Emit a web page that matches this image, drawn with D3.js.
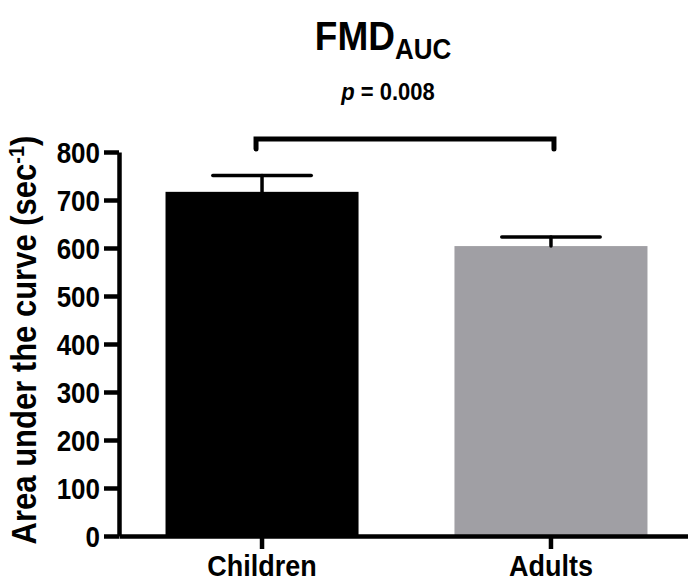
<!DOCTYPE html>
<html>
<head>
<meta charset="utf-8">
<script src="https://cdn.jsdelivr.net/npm/d3@7"></script>
<style>
  body { margin: 0; background: #fff; }
  text { font-family: "Liberation Sans", Arial, Helvetica, sans-serif; font-weight: bold; fill: #000; }
</style>
</head>
<body>
<script>
// data
var categories = ["Children", "Adults"];
var means = [717, 604];
var sems = [34, 19];
var barColors = ["#000000", "#a09fa4"];
var yTicks = [0, 100, 200, 300, 400, 500, 600, 700, 800];
var pValue = "0.008";

// the original lettering is a bit taller than Arial
var stretch = 1.12;

window.onload = function(){

	var w = 688, h = 588;

	var svg = d3.select("body")
		.append("svg")
		.attr("width", w)
		.attr("height", h);

	var x = d3.scaleBand()
		.domain(categories)
		.range([119, 694])
		.paddingInner(0.332)
		.paddingOuter(0.161);

	var y = d3.scaleLinear()
		.domain([0, 800])
		.range([536, 152]);

	var rows = categories.map(function(c, i){
		return { name: c, mean: means[i], sem: sems[i], color: barColors[i] };
	});

	// bars
	svg.selectAll(".bar")
		.data(rows)
		.enter()
		.append("rect")
		.attr("class", "bar")
		.attr("x", function(d){ return x(d.name); })
		.attr("width", x.bandwidth())
		.attr("y", function(d){ return y(d.mean); })
		.attr("height", function(d){ return y(0) - y(d.mean); })
		.style("fill", function(d){ return d.color; });

	// error bars (upper only)
	var capHalf = x.bandwidth() * 0.255;
	var err = svg.selectAll(".err")
		.data(rows)
		.enter()
		.append("g")
		.attr("class", "err")
		.style("stroke", "#000")
		.style("stroke-width", 3.5)
		.style("stroke-linecap", "round");

	err.append("line")
		.attr("x1", function(d){ return x(d.name) + x.bandwidth() / 2; })
		.attr("x2", function(d){ return x(d.name) + x.bandwidth() / 2; })
		.attr("y1", function(d){ return y(d.mean); })
		.attr("y2", function(d){ return y(d.mean + d.sem); });

	err.append("line")
		.attr("x1", function(d){ return x(d.name) + x.bandwidth() / 2 - capHalf; })
		.attr("x2", function(d){ return x(d.name) + x.bandwidth() / 2 + capHalf; })
		.attr("y1", function(d){ return y(d.mean + d.sem); })
		.attr("y2", function(d){ return y(d.mean + d.sem); });

	// y axis
	var yAxis = d3.axisLeft(y)
		.tickValues(yTicks)
		.tickSizeInner(15)
		.tickSizeOuter(0)
		.tickPadding(4);

	var yg = svg.append("g")
		.attr("transform", "translate(119,0)")
		.call(yAxis);
	yg.selectAll("path, line").style("stroke", "#000").style("stroke-width", 4.5);
	yg.selectAll("text")
		.style("font-size", "26px")
		.style("font-family", "'Liberation Sans', Arial, sans-serif")
		.style("font-weight", "bold")
		.attr("dy", "0.36em")
		.attr("transform", "scale(1," + stretch + ")");

	// x axis
	var xAxis = d3.axisBottom(x)
		.tickSizeInner(13)
		.tickSizeOuter(0)
		.tickPadding(4);

	var xg = svg.append("g")
		.attr("transform", "translate(0,536)")
		.call(xAxis);
	xg.selectAll("path, line").style("stroke", "#000").style("stroke-width", 4.5);
	xg.selectAll("text")
		.style("font-size", "27px")
		.style("font-family", "'Liberation Sans', Arial, sans-serif")
		.style("font-weight", "bold")
		.attr("transform", "scale(1," + stretch + ")");

	// y axis title
	var yTitle = svg.append("text")
		.attr("transform", "translate(36,340) rotate(-90) scale(1," + stretch + ")")
		.attr("text-anchor", "middle")
		.style("font-size", "31px");
	yTitle.append("tspan").text("Area under the curve (sec");
	yTitle.append("tspan").attr("dy", "-0.55em").style("font-size", "20px").text("-1");
	yTitle.append("tspan").attr("dy", "0.36em").text(")");

	// title
	var title = svg.append("text")
		.attr("transform", "translate(383,50) scale(1," + stretch + ")")
		.attr("text-anchor", "middle")
		.style("font-size", "37px");
	title.append("tspan").text("FMD");
	title.append("tspan").attr("dy", "0.3em").style("font-size", "26px").text("AUC");

	// significance bracket
	var xl = x("Children") + x.bandwidth() / 2 - 6,
		xr = x("Adults") + x.bandwidth() / 2 + 3,
		yb = 139;
	svg.append("path")
		.attr("d", "M" + xl + "," + (yb + 10) + "V" + yb + "H" + xr + "V" + (yb + 10))
		.style("fill", "none")
		.style("stroke", "#000")
		.style("stroke-width", 5)
		.style("stroke-linecap", "round");

	var pText = svg.append("text")
		.attr("transform", "translate(388,100) scale(1," + stretch + ")")
		.attr("text-anchor", "middle")
		.style("font-size", "22px");
	pText.append("tspan").style("font-style", "italic").text("p");
	pText.append("tspan").text(" = " + pValue);
};
</script>
</body>
</html>
